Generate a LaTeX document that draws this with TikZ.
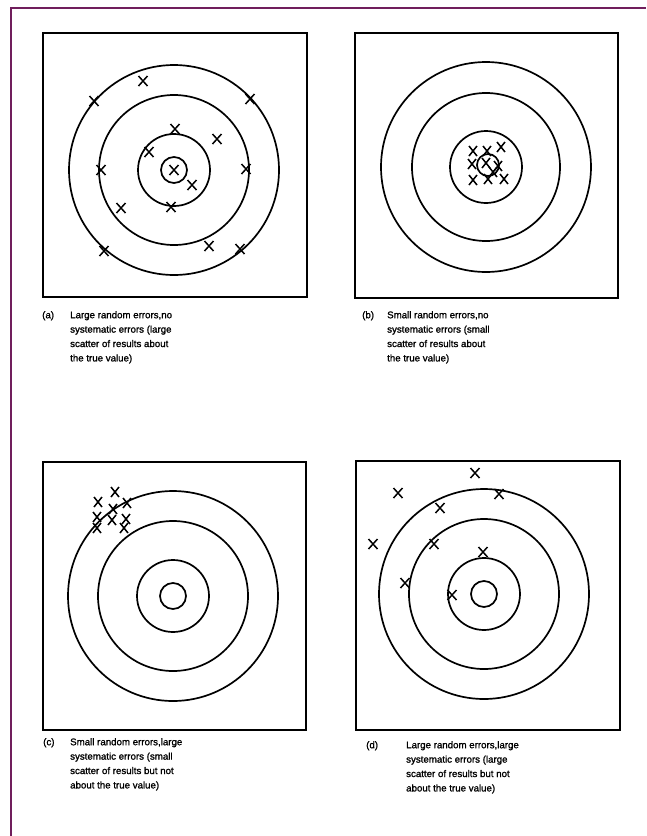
\documentclass[tikz,border=0pt]{standalone}
\usepackage{fontspec}
\setmainfont{Liberation Sans}
\newfontfamily\capfont[BoldFont=Liberation Sans, BoldFeatures={FakeBold=1.3}]{Liberation Sans}
\definecolor{frame}{RGB}{112,30,92}
\tikzset{
  panel/.style={draw=black, line width=2.8pt},
  ring/.style={draw=black, line width=1.7pt},
  xmark/.style={draw=black, line width=1.5pt},
  captext/.style={anchor=north west, inner sep=0pt, align=left, font=\capfont\bfseries\fontsize{9.7}{14.4}\selectfont},
  tagtext/.style={anchor=north west, inner sep=0pt, font=\capfont\bfseries\fontsize{9.7}{14.4}\selectfont},
}
\newcommand\crossat[3][4.5]{\draw[xmark] (#2-#1,#3-5) -- (#2+#1,#3+5) (#2-#1,#3+5) -- (#2+#1,#3-5);}
\newcommand\target[2]{%
  \draw[ring] (#1,#2) circle (105);
  \draw[ring] (#1,#2) circle (75);
  \draw[ring] (#1,#2) circle (36);
  \draw[ring] (#1,#2) circle (13);
}
\begin{document}
\begin{tikzpicture}[x=1pt,y=-1pt]
\useasboundingbox (0,0) rectangle (646,836);
% purple frame (left and top)
\draw[frame, line width=2pt] (11,836) -- (11,7.5) -- (646,7.5);

% ---------- panel (a)
\node[panel, minimum width=264, minimum height=264, inner sep=0pt] (boxa) at (175,165) {};
\target{174}{170}
\crossat{143}{81}
\crossat{94}{101}
\crossat{250}{99}
\crossat{175}{129}
\crossat{217}{139}
\crossat{149}{152}
\crossat{101}{170}
\crossat{246}{169}
\crossat{174}{170}
\crossat{192}{185}
\crossat{121}{208}
\crossat{171}{207}
\crossat{209}{246}
\crossat{240}{249}
\crossat{104}{251}
\node[tagtext] (taga) at (42,311) {(a)};
\node[captext] (capa) at (70,311) {Large random errors,no\\systematic errors (large\\scatter of results about\\the true value)};

% ---------- panel (b)
\node[panel, minimum width=263, minimum height=265, inner sep=0pt] (boxb) at (486.5,165.5) {};
\draw[ring] (486,167) circle (105);
\draw[ring] (486,167) circle (74);
\draw[ring] (486,167) circle (36);
\draw[ring] (488,165) circle (11);
\crossat[4]{473}{151}
\crossat[4]{487}{151}
\crossat[4]{501}{147}
\crossat[4]{472}{164}
\crossat[4]{498}{166}
\crossat[4]{486}{163}
\crossat[4]{473}{180}
\crossat[4]{488}{179}
\crossat[4]{504}{179}
\crossat[4]{493}{172}
\node[tagtext] (tagb) at (362,311) {(b)};
\node[captext] (capb) at (387,311) {Small random errors,no\\systematic errors (small\\scatter of results about\\the true value)};

% ---------- panel (c)
\node[panel, minimum width=263, minimum height=268, inner sep=0pt] (boxc) at (174.5,596) {};
\target{173}{596}
\crossat[4]{98}{502}
\crossat[4]{115}{492}
\crossat[4]{127}{503}
\crossat[4]{113}{509}
\crossat[4]{97}{517}
\crossat[4]{112}{520}
\crossat[4]{126}{519}
\crossat[4]{97}{528}
\crossat[4]{124}{528}
\node[tagtext] (tagc) at (43,738) {(c)};
\node[captext] (capc) at (70,738) {Small random errors,large\\systematic errors (small\\scatter of results but not\\about the true value)};

% ---------- panel (d)
\node[panel, minimum width=264, minimum height=269, inner sep=0pt] (boxd) at (488,595.5) {};
\target{484}{594}
\crossat{475}{473}
\crossat{398}{493}
\crossat{499}{494}
\crossat{440}{508}
\crossat{373}{544}
\crossat{434}{544}
\crossat{483}{552}
\crossat{405}{583}
\crossat{452}{595}
\node[tagtext] (tagd) at (366,741) {(d)};
\node[captext] (capd) at (406,741) {Large random errors,large\\systematic errors (large\\scatter of results but not\\about the true value)};
\end{tikzpicture}
\end{document}
